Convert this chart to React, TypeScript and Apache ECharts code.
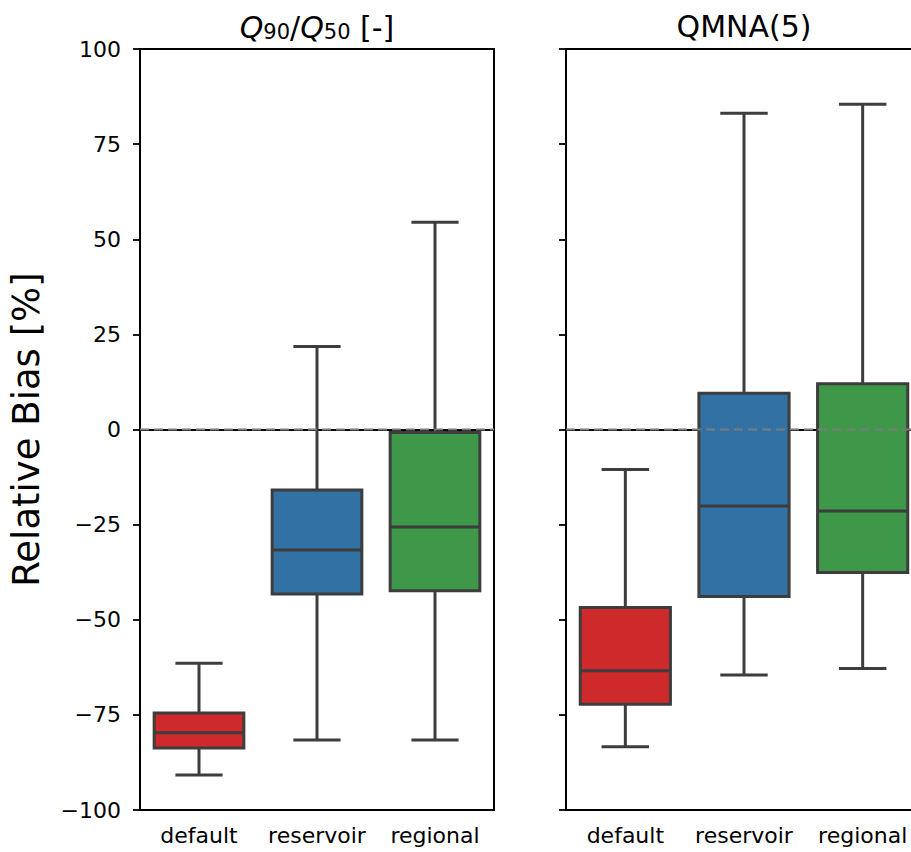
import React, { useEffect, useRef } from "react";
import * as echarts from "echarts";

// Box statistics per category: [lower whisker, Q1, median, Q3, upper whisker]
const categories = ["default", "reservoir", "regional"];
const yTickStep = 25;
const yMin = -100;
const yMax = 100;

const q90q50Default = [-90.8, -83.7, -79.7, -74.5, -61.4];
const q90q50Reservoir = [-81.6, -43.2, -31.7, -15.9, 21.8];
const q90q50Regional = [-81.6, -42.4, -25.6, -0.8, 54.5];

const qmna5Default = [-83.4, -72.2, -63.4, -46.8, -10.5];
const qmna5Reservoir = [-64.5, -43.9, -20.1, 9.5, 83.1];
const qmna5Regional = [-62.8, -37.6, -21.4, 12.0, 85.5];

const zeroLine = 0;

const boxColors = ["#cf2a2b", "#3271a3", "#3f984a"];
const edgeColor = "#3d3d3d";
const FONT = "DejaVu Sans";

const toRows = (stats: number[][]) => stats.map((s, i) => [i, ...s]);

const renderBox = (params: any, api: any) => {
  const idx = api.value(0) as number;
  const lo = api.coord([idx, api.value(1)]);
  const q1 = api.coord([idx, api.value(2)]);
  const med = api.coord([idx, api.value(3)]);
  const q3 = api.coord([idx, api.value(4)]);
  const hi = api.coord([idx, api.value(5)]);
  const band = api.size([1, 0])[0];
  const boxW = band * 0.76;
  const capW = band * 0.4;
  const x = med[0];
  const lw = 3;
  const line = (x1: number, y1: number, x2: number, y2: number) => ({
    type: "line",
    shape: { x1, y1, x2, y2 },
    style: { stroke: edgeColor, lineWidth: lw },
  });
  return {
    type: "group",
    children: [
      line(x, hi[1], x, q3[1]),
      line(x, q1[1], x, lo[1]),
      line(x - capW / 2, hi[1], x + capW / 2, hi[1]),
      line(x - capW / 2, lo[1], x + capW / 2, lo[1]),
      {
        type: "rect",
        shape: { x: x - boxW / 2, y: q3[1], width: boxW, height: q1[1] - q3[1] },
        style: { fill: boxColors[idx], stroke: edgeColor, lineWidth: lw },
      },
      line(x - boxW / 2, med[1], x + boxW / 2, med[1]),
    ],
  };
};

const renderZero = (params: any, api: any) => {
  const cs = params.coordSys;
  const y = api.coord([0, api.value(1)])[1];
  return {
    type: "line",
    shape: { x1: cs.x, y1: y, x2: cs.x + cs.width, y2: y },
    style: { stroke: "#7a7a7a", lineWidth: 2.2, lineDash: [9, 5] },
  };
};

const minusFmt = (v: number) => (v < 0 ? "\u2212" + Math.abs(v) : String(v));

export default function App() {
  const ref = useRef<HTMLDivElement>(null);

  useEffect(() => {
    if (!ref.current) return;
    const chart = echarts.init(ref.current, undefined, { renderer: "svg" });

    const grids = [
      { left: 140, top: 49, width: 354, height: 761 },
      { left: 566, top: 49, width: 356, height: 761 },
    ].map((g) => ({
      ...g,
      show: true,
      borderColor: "#000",
      borderWidth: 2,
      backgroundColor: "transparent",
    }));

    const xAxes = [0, 1].map((gi) => ({
      type: "category",
      gridIndex: gi,
      data: categories,
      boundaryGap: true,
      axisLine: { lineStyle: { color: "#000", width: 2 } },
      axisTick: { alignWithLabel: true, length: 7, lineStyle: { color: "#000", width: 1.8 } },
      axisLabel: { interval: 0, fontSize: 22, color: "#000", margin: 14, fontFamily: FONT },
      splitLine: { show: false },
    }));

    const yAxes = [0, 1].map((gi) => ({
      type: "value",
      gridIndex: gi,
      min: yMin,
      max: yMax,
      interval: yTickStep,
      axisLine: { show: true, lineStyle: { color: "#000", width: 2 } },
      axisTick: { show: true, length: 7, lineStyle: { color: "#000", width: 1.8 } },
      axisLabel: {
        show: gi === 0,
        fontSize: 22,
        color: "#000",
        margin: 19,
        fontFamily: FONT,
        formatter: minusFmt,
      },
      splitLine: { show: false },
      name: gi === 0 ? "Relative Bias [%]" : "",
      nameLocation: "middle",
      nameGap: 95,
      nameTextStyle: { fontSize: 37, color: "#000", fontFamily: FONT },
    }));

    const boxSeries = (data: number[][], gi: number) => ({
      type: "custom",
      xAxisIndex: gi,
      yAxisIndex: gi,
      data: toRows(data),
      encode: { x: 0, y: [1, 2, 3, 4, 5] },
      renderItem: renderBox,
      z: 2,
    });

    const zeroSeries = (gi: number) => ({
      type: "custom",
      xAxisIndex: gi,
      yAxisIndex: gi,
      data: [[0, zeroLine]],
      encode: { x: 0, y: 1 },
      renderItem: renderZero,
      z: 3,
      silent: true,
    });

    chart.setOption({
      animation: false,
      textStyle: { fontFamily: FONT },
      grid: grids,
      xAxis: xAxes,
      yAxis: yAxes,
      series: [
        boxSeries([q90q50Default, q90q50Reservoir, q90q50Regional], 0),
        boxSeries([qmna5Default, qmna5Reservoir, qmna5Regional], 1),
        zeroSeries(0),
        zeroSeries(1),
      ],
      graphic: [
        {
          type: "text",
          x: 317,
          y: 42,
          style: {
            text: "{q|Q}{s|90}{n|/}{q|Q}{s|50}{n| [-]}",
            align: "center",
            verticalAlign: "bottom",
            fill: "#000",
            fontFamily: FONT,
            rich: {
              q: { fontSize: 30, fontStyle: "italic", fontFamily: FONT, lineHeight: 36, verticalAlign: "bottom", fill: "#000" },
              n: { fontSize: 30, fontFamily: FONT, lineHeight: 36, verticalAlign: "bottom", fill: "#000" },
              s: { fontSize: 21, fontFamily: FONT, lineHeight: 17, verticalAlign: "bottom", fill: "#000" },
            },
          },
        },
        {
          type: "text",
          x: 744,
          y: 44,
          style: {
            text: "QMNA(5)",
            align: "center",
            verticalAlign: "bottom",
            fontSize: 30,
            lineHeight: 36,
            fontFamily: FONT,
            fill: "#000",
          },
        },
      ],
    });

    return () => chart.dispose();
  }, []);

  return (
    <div
      style={{
        position: "absolute",
        left: 0,
        top: 0,
        width: 911,
        height: 852,
        overflow: "hidden",
        background: "#fff",
      }}
    >
      <div ref={ref} style={{ width: 940, height: 852 }} />
    </div>
  );
}
